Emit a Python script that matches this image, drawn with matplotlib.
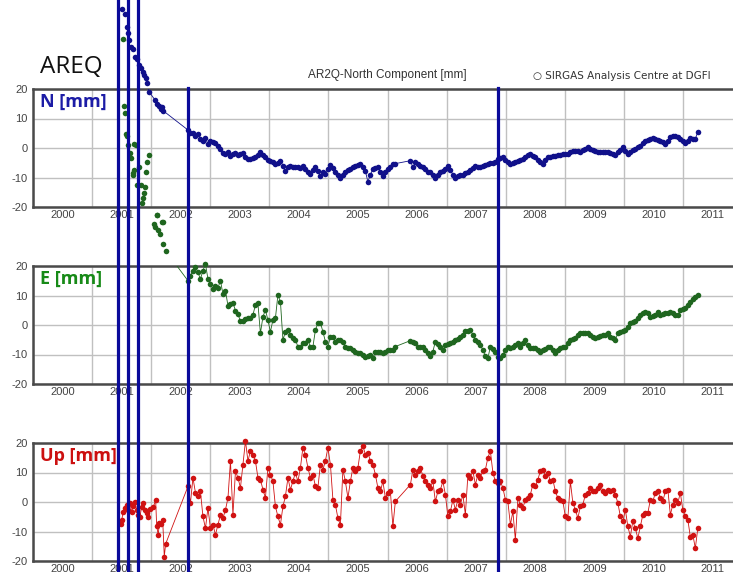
import matplotlib
matplotlib.use('Agg')
import matplotlib.pyplot as plt
from matplotlib.lines import Line2D
from matplotlib.transforms import blended_transform_factory

plt.rcParams['font.family'] = ['Liberation Sans', 'DejaVu Sans']

# solutions after the 2002 gap, decimal years (gap again in mid 2006)
epochs = [
    2002.623, 2002.665, 2002.707, 2002.750, 2002.792, 2002.834, 2002.876, 2002.919, 2002.961, 2003.003,
    2003.046, 2003.088, 2003.131, 2003.173, 2003.215, 2003.258, 2003.300, 2003.342, 2003.384, 2003.427,
    2003.469, 2003.511, 2003.553, 2003.596, 2003.638, 2003.680, 2003.722, 2003.765, 2003.807, 2003.849,
    2003.892, 2003.934, 2003.976, 2004.018, 2004.061, 2004.103, 2004.145, 2004.188, 2004.230, 2004.272,
    2004.315, 2004.357, 2004.399, 2004.441, 2004.484, 2004.526, 2004.568, 2004.611, 2004.653, 2004.695,
    2004.738, 2004.780, 2004.822, 2004.864, 2004.907, 2004.949, 2004.991, 2005.034, 2005.076, 2005.118,
    2005.161, 2005.203, 2005.245, 2005.287, 2005.330, 2005.372, 2005.414, 2005.457, 2005.499, 2005.541,
    2005.584, 2005.626, 2005.668, 2005.710, 2005.753, 2005.795, 2005.837, 2005.880, 2005.922, 2005.964,
    2006.007, 2006.049, 2006.091, 2006.133,
    2006.388, 2006.430, 2006.472, 2006.514, 2006.556, 2006.599, 2006.641, 2006.683, 2006.726, 2006.768,
    2006.810,
    2006.853, 2006.895, 2006.938, 2006.980, 2007.022, 2007.065, 2007.107, 2007.149, 2007.191, 2007.234,
    2007.276, 2007.318, 2007.361, 2007.403, 2007.445, 2007.488, 2007.530, 2007.572, 2007.614, 2007.657,
    2007.699, 2007.741, 2007.784, 2007.826, 2007.868, 2007.911, 2007.953, 2007.995, 2008.037, 2008.080,
    2008.122, 2008.164, 2008.207, 2008.249, 2008.291, 2008.334, 2008.376, 2008.418, 2008.460, 2008.503,
    2008.545, 2008.587, 2008.630, 2008.672, 2008.714, 2008.757, 2008.799, 2008.841, 2008.883, 2008.926,
    2008.968, 2009.010, 2009.053, 2009.095, 2009.137, 2009.180, 2009.222, 2009.264, 2009.306, 2009.349,
    2009.391, 2009.433, 2009.476, 2009.518, 2009.560, 2009.603, 2009.645, 2009.687, 2009.729, 2009.772,
    2009.814, 2009.856, 2009.899, 2009.941, 2009.983, 2010.026, 2010.068, 2010.110, 2010.152, 2010.195,
    2010.237, 2010.279, 2010.322, 2010.364, 2010.406, 2010.449, 2010.491, 2010.533, 2010.575, 2010.618,
    2010.660, 2010.702, 2010.745, 2010.787, 2010.829, 2010.872, 2010.914, 2010.956, 2010.998, 2011.041,
    2011.083, 2011.125, 2011.168, 2011.210, 2011.252,
]

north = [
    6.1, 5.2, 5.0, 4.1, 4.6, 3.0, 2.4, 3.5, 1.2, 2.4,
    2.0, 1.8, 0.7, -0.5, -1.6, -2.1, -1.5, -2.7, -2.2, -1.6,
    -2.5, -2.1, -1.8, -3.0, -3.6, -3.8, -3.4, -3.2, -2.5, -1.5,
    -2.5, -3.2, -4.0, -4.3, -4.8, -5.5, -5.0, -4.3, -6.0, -7.8,
    -6.5, -6.0, -6.3, -6.6, -6.3, -6.8, -6.0, -7.0, -8.0, -8.9,
    -7.5, -6.6, -7.8, -9.5, -8.3, -8.9, -7.2, -5.8, -6.8, -8.3,
    -9.0, -10.0, -9.0, -8.3, -7.5, -7.0, -6.6, -6.0, -5.8, -5.5,
    -6.5, -7.8, -11.5, -9.0, -7.2, -6.8, -6.6, -8.0, -9.5, -8.3,
    -7.2, -6.3, -5.5, -5.3,
    -4.3, -6.6, -4.9, -5.5, -6.0, -6.6, -7.2, -8.0, -8.3, -9.0, -10.0,
    -9.0, -8.0, -7.8, -7.0, -6.0, -7.5, -9.0, -10.0, -9.6, -9.3,
    -9.0, -8.6, -8.3, -7.5, -6.8, -6.0, -6.3, -6.6, -6.2, -5.8,
    -5.5, -5.2, -5.0, -4.9, -3.8, -3.5, -3.2, -4.0, -4.8, -5.5,
    -5.2, -4.9, -4.4, -4.1, -3.8, -3.0, -2.5, -2.1, -2.6, -3.2,
    -4.0, -4.8, -5.5, -4.2, -3.2, -3.0, -2.8, -2.6, -2.5, -2.4,
    -2.2, -2.0, -2.1, -1.5, -1.0, -0.9, -1.1, -1.3, -0.6, -0.2,
    0.2, -0.3, -0.7, -0.9, -1.2, -1.5, -1.4, -1.5, -1.5, -1.8,
    -2.1, -2.4, -1.2, -0.6, 0.2, -1.0, -2.1, -1.2, -0.6, -0.3,
    0.3, 0.8, 1.6, 2.5, 2.8, 3.0, 3.3, 3.0, 2.7, 2.5,
    2.0, 1.4, 2.5, 3.7, 3.9, 4.0, 3.6, 3.1, 2.3, 1.6,
    2.5, 3.3, 3.2, 3.1, 5.4,
]

east = [
    15.0, 16.7, 18.4, 19.5, 17.8, 15.6, 18.4, 20.7, 15.6, 13.9,
    12.2, 13.3, 12.7, 15.0, 10.5, 11.6, 6.5, 7.0, 7.6, 4.8,
    3.6, 1.4, 1.4, 2.0, 2.5, 2.3, 3.4, 6.8, 7.3, -2.8,
    2.8, 5.1, 1.7, -2.3, 1.7, 2.3, 10.2, 7.9, -5.1, -2.3,
    -1.7, -3.4, -4.5, -5.1, -7.3, -7.3, -6.2, -6.2, -5.1, -7.3,
    -7.3, -1.7, 0.6, 0.8, -2.3, -5.6, -7.3, -4.0, -4.0, -5.6,
    -5.1, -5.1, -5.6, -7.3, -7.9, -7.9, -8.5, -9.0, -9.6, -9.6,
    -10.2, -10.7, -10.5, -10.2, -11.3, -9.0, -9.0, -9.0, -9.6, -9.0,
    -8.5, -8.5, -8.5, -7.3,
    -5.3, -5.8, -6.2, -7.3, -7.3, -7.3, -8.5, -9.5, -10.5, -9.0, -5.6,
    -6.5, -7.3, -8.5, -6.8, -6.5, -6.2, -5.6, -5.1, -4.6, -4.2,
    -3.4, -2.0, -1.9, -1.7, -3.4, -5.1, -5.8, -6.8, -8.5, -10.5,
    -11.3, -7.3, -8.0, -9.0, -10.7, -11.3, -10.0, -8.5, -7.3, -7.9,
    -7.3, -6.8, -6.2, -7.3, -6.2, -5.1, -6.8, -7.9, -7.9, -7.9,
    -8.5, -9.0, -8.6, -8.2, -7.3, -7.6, -8.5, -9.6, -8.5, -7.9,
    -7.6, -7.3, -6.2, -5.1, -4.8, -4.5, -3.4, -2.8, -2.8, -2.8,
    -2.8, -3.4, -3.9, -4.3, -4.2, -3.7, -3.5, -3.4, -2.8, -4.0,
    -4.5, -5.1, -2.8, -2.3, -2.0, -1.7, -0.6, 0.6, 1.0, 1.5,
    2.3, 3.4, 4.0, 4.5, 4.0, 2.8, 3.1, 3.4, 4.5, 3.4,
    3.7, 4.0, 4.0, 4.5, 4.0, 3.4, 3.4, 5.1, 5.4, 5.6,
    6.8, 7.9, 8.7, 9.6, 10.2,
]

up = [
    5.3, -0.3, 8.2, 3.1, 1.9, 3.6, -4.9, -8.9, -2.0, -8.9,
    -7.7, -11.1, -7.7, -4.3, -5.5, -2.6, 1.4, 13.9, -4.3, 10.5,
    8.2, 4.8, 12.7, 20.7, 13.9, 17.3, 16.1, 13.9, 8.2, 7.6,
    4.2, 1.4, 11.6, 9.3, 7.0, -1.5, -4.9, -7.7, -1.5, 1.9,
    8.2, 4.2, 7.0, 9.9, 7.0, 11.6, 18.4, 16.1, 11.6, 8.2,
    9.3, 5.3, 4.8, 12.7, 11.0, 13.9, 18.4, 12.7, 0.8, -0.9,
    -5.5, -7.7, 11.0, 7.0, 1.4, 7.0, 11.6, 10.5, 11.6, 17.3,
    19.0, 16.1, 16.7, 13.9, 12.7, 9.3, 4.8, 3.6, 7.0, 1.4,
    3.1, 3.6, -8.3, 0.2,
    5.9, 11.0, 9.3, 10.5, 11.6, 8.8, 7.0, 5.9, 4.8, 7.0, 0.2,
    3.6, 4.2, 7.0, 2.5, -4.9, -3.2, 0.8, -2.6, 0.8, -0.9,
    2.5, -4.3, 9.3, 8.2, 10.5, 5.9, 9.3, 8.2, 10.5, 11.0,
    15.0, 17.3, 9.9, 7.0, 6.5, 7.0, 4.8, 0.8, 0.2, -7.7,
    -3.2, -12.8, 1.4, -0.9, -2.0, 0.8, 1.4, 2.5, 5.9, 5.3,
    7.6, 10.5, 11.0, 8.8, 9.9, 7.0, 7.6, 3.6, 1.4, 0.8,
    0.2, -4.9, -5.5, 7.0, -0.3, -2.6, -5.5, -1.5, -0.9, 2.5,
    3.1, 4.8, 3.6, 3.6, 4.8, 5.9, 3.6, 3.1, 4.2, 3.6,
    4.2, 2.5, -0.3, -4.9, -6.6, -2.6, -8.3, -11.7, -6.6, -8.9,
    -12.3, -8.3, -4.3, -3.8, -3.8, 0.8, 0.2, 3.1, 3.6, 1.4,
    0.2, 3.6, 4.2, -4.3, -0.9, 0.8, -0.3, 3.1, -2.6, -4.9,
    -6.0, -11.7, -11.1, -15.7, -8.9,
]

# first months after the 2001 event (values run far off the panels)
north_early_t = [2001.514, 2001.562, 2001.585, 2001.613, 2001.629, 2001.653, 2001.687,
                 2001.726, 2001.755, 2001.799, 2001.827, 2001.856, 2001.878, 2001.907,
                 2001.924, 2001.963, 2002.064, 2002.093, 2002.137, 2002.161, 2002.188,
                 2002.205]
north_early = [47.0, 45.4, 41.1, 38.9, 36.6, 34.3, 33.4, 30.9, 30.1, 28.1, 27.0, 25.9,
               24.7, 23.6, 22.1, 19.1, 16.3, 14.9, 14.2, 13.1, 14.0, 12.6]

east_early_t = [2001.518, 2001.540, 2001.557, 2001.569, 2001.585, 2001.613, 2001.641,
                2001.658, 2001.687, 2001.697, 2001.712, 2001.716, 2001.743, 2001.755,
                2001.799, 2001.822, 2001.839, 2001.866, 2001.878, 2001.900, 2001.912,
                2001.934, 2001.958, 2002.047, 2002.064, 2002.093, 2002.103, 2002.120,
                2002.149, 2002.178, 2002.195, 2002.205, 2002.245]
east_early = [97.0, 74.3, 72.0, 64.8, 64.2, 61.1, 58.3, 56.6, 51.5, 50.9, 52.6, 61.5,
              61.1, 47.5, 53.7, 47.5, 41.5, 42.9, 44.6, 46.9, 52.0, 55.2, 57.7, 34.3,
              33.2, 37.4, 37.2, 32.1, 30.9, 34.9, 27.5, 34.9, 25.2]

up_early_t = [2001.484, 2001.501, 2001.528, 2001.557, 2001.585, 2001.613, 2001.641,
              2001.670, 2001.697, 2001.726, 2001.755, 2001.782, 2001.810, 2001.839,
              2001.866, 2001.895, 2001.924, 2001.951, 2001.980, 2002.036, 2002.076,
              2002.093, 2002.120, 2002.137, 2002.166, 2002.195, 2002.222, 2002.245]
up_early = [-7.5, -6.1, -3.3, -2.1, -1.0, -2.7, -0.5, -3.3, -1.4, 0.1, -2.7, -4.4,
            -5.0, -1.6, -0.5, -2.7, -3.6, -5.0, -2.5, -1.8, 0.7, -8.1, -11.2, -7.2,
            -7.5, -6.1, -18.5, -14.2]

# discontinuities (equipment changes / events)
jumps_full = [2001.443, 2001.602, 2001.782]
jumps_lower = [2002.628, 2007.873]

years = list(range(2000, 2012))

W, H = 733, 572
fig = plt.figure(figsize=(W / 100, H / 100), dpi=100)

panels = [
    (207, north_early_t + epochs, north_early + north, '#10108a', 'N [mm]', '#1c1ca6'),
    (384, east_early_t + epochs, east_early + east, '#1f661f', 'E [mm]', '#178a17'),
    (561, up_early_t + epochs, up_early + up, '#d01212', 'Up [mm]', '#cc1010'),
]

axes = []
for bottom_px, t, vals, color, label, lcolor in panels:
    ax = fig.add_axes([33 / W, 1 - bottom_px / H, 709 / W, 118 / H])
    ax.plot(t, vals, '-', color=color, lw=0.6, zorder=3)
    ax.plot(t, vals, 'o', color=color, ms=4.0, mew=0, clip_on=False, zorder=4)

    ax.set_xlim(2000, 2012)
    ax.set_ylim(-20, 20)
    ax.set_yticks([-20, -10, 0, 10, 20])
    ax.set_yticklabels(['-20', '-10', '0', '10', '20'])
    ax.set_xticks(years)
    ax.set_xticklabels([])
    ax.set_xticks([y + 0.5 for y in years], minor=True)
    ax.set_xticklabels([str(y) for y in years], minor=True)
    ax.tick_params(which='both', length=0, labelsize=8, colors='#444444')
    ax.tick_params(axis='x', which='minor', pad=2.5)
    ax.tick_params(axis='y', pad=4)
    ax.grid(True, which='major', color='#c0c0c0', lw=1)
    ax.set_axisbelow(True)
    for side in ['top', 'bottom', 'left']:
        ax.spines[side].set_color('#4a4a4a')
        ax.spines[side].set_linewidth(1.8)
    ax.spines['right'].set_visible(False)

    ax.text(0.01, 0.965, label, transform=ax.transAxes, ha='left', va='top',
            fontsize=13, fontweight='bold', color=lcolor,
            family=['Open Sans', 'DejaVu Sans'], zorder=6)
    axes.append(ax)

fig.text(40 / W, 1 - 73 / H, 'AREQ', fontsize=17.5, va='baseline',
         family=['Open Sans', 'DejaVu Sans'], color='#111111')
fig.text(387 / W, 1 - 75 / H, 'AR2Q-North Component [mm]', fontsize=8.5,
         ha='center', va='center', color='#333333')
fig.text(533 / W, 1 - 76 / H, '\u25cb SIRGAS Analysis Centre at DGFI', fontsize=7.5,
         va='center', color='#333333', family=['DejaVu Sans'])

trans = blended_transform_factory(axes[0].transData, fig.transFigure)
for t in jumps_full:
    fig.add_artist(Line2D([t, t], [0, 1], transform=trans, color='#0a0a9a', lw=2.3, zorder=10))
for t in jumps_lower:
    fig.add_artist(Line2D([t, t], [0, 1 - 88 / H], transform=trans, color='#0a0a9a', lw=2.3, zorder=10))

fig.savefig('out.png', dpi=100)
